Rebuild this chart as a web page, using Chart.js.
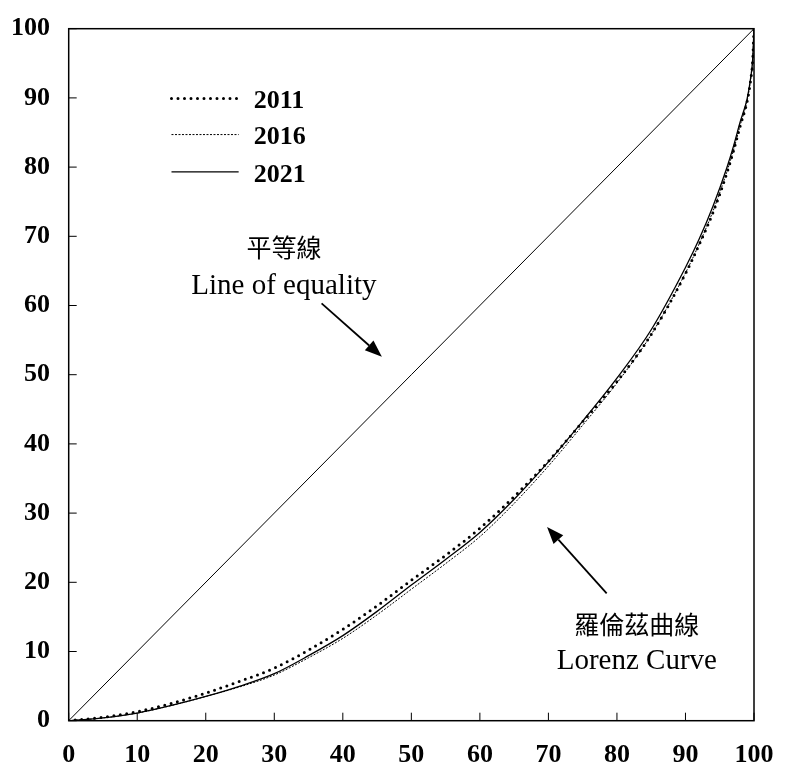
<!DOCTYPE html>
<html>
<head>
<meta charset="utf-8">
<title>Lorenz Curve</title>
<script src="https://cdn.jsdelivr.net/npm/chart.js@4/dist/chart.umd.min.js"></script>
<style>
  html, body { margin: 0; padding: 0; background: #fff; }
  #wrap { width: 785px; height: 765px; }
</style>
</head>
<body>
<div id="wrap"><canvas id="c" width="785" height="765"></canvas></div>
<script>
// Cumulative share of population (%), x axis
const popShare = [0, 5, 10, 15, 20, 25, 30, 35, 40, 45, 50, 55, 60, 65, 70, 75, 80, 85, 90, 92, 94, 96, 97, 98, 99, 99.5, 99.8, 100];
// Cumulative share of income (%) per survey year
const share2011 = [0, 0.5, 1.3, 2.5, 4.0, 5.7, 7.6, 10.2, 13.2, 16.6, 20.3, 23.9, 27.8, 32.4, 37.5, 43.2, 49.0, 55.8, 64.6, 68.8, 73.4, 79.0, 82.3, 86.0, 89.5, 92.5, 95.3, 100];
const share2016 = [0, 0.4, 1.1, 2.2, 3.5, 4.9, 6.6, 9.1, 11.9, 15.3, 19.0, 22.7, 26.6, 31.4, 36.8, 42.7, 48.8, 55.8, 64.7, 68.9, 73.6, 79.2, 82.4, 86.1, 89.6, 92.6, 95.3, 100];
const share2021 = [0, 0.4, 1.1, 2.2, 3.5, 5.0, 6.8, 9.4, 12.3, 15.8, 19.6, 23.3, 27.2, 32.0, 37.4, 43.3, 49.5, 56.5, 65.5, 69.6, 74.3, 79.8, 83.0, 86.6, 89.9, 92.8, 95.5, 100];
const equalityX = [0, 100];
const equalityY = [0, 100];
const seriesLabels = ['2011', '2016', '2021'];
const axisTicks = [0, 10, 20, 30, 40, 50, 60, 70, 80, 90, 100];

const SERIF = "'Liberation Serif', 'Times New Roman', serif";
const CJK = "'Liberation Serif', 'Noto Sans CJK TC', serif";

const toPoints = (xs, ys) => xs.map((x, i) => ({ x: x, y: ys[i] }));

const seriesStyles = [
  { borderWidth: 3, borderDash: [0, 6.5], borderCapStyle: 'round' },
  { borderWidth: 1, borderDash: [2, 1.5], borderCapStyle: 'butt' },
  { borderWidth: 1.3, borderDash: [], borderCapStyle: 'butt' }
];
const seriesData = [share2011, share2016, share2021];

const datasets = seriesLabels.map((lab, i) => Object.assign({
  label: lab,
  data: toPoints(popShare, seriesData[i]),
  borderColor: '#000',
  backgroundColor: '#000',
  fill: false,
  pointRadius: 0,
  cubicInterpolationMode: 'monotone'
}, seriesStyles[i]));

datasets.push({
  label: 'equality',
  data: toPoints(equalityX, equalityY),
  borderColor: '#000',
  borderWidth: 1,
  pointRadius: 0,
  fill: false
});

// Frame, inward tick marks, legend, notes and arrows
const decorations = {
  id: 'decorations',
  afterDraw(chart) {
    const ctx = chart.ctx;
    const a = chart.chartArea;
    const xs = chart.scales.x, ys = chart.scales.y;
    const px = v => xs.getPixelForValue(v);
    const py = v => ys.getPixelForValue(v);
    ctx.save();
    // frame
    ctx.strokeStyle = '#000';
    ctx.lineWidth = 1.5;
    ctx.setLineDash([]);
    ctx.strokeRect(a.left, a.top, a.right - a.left, a.bottom - a.top);
    // inward ticks
    ctx.lineWidth = 1;
    ctx.beginPath();
    axisTicks.forEach(t => {
      const x = px(t);
      ctx.moveTo(x, a.bottom);
      ctx.lineTo(x, a.bottom - 8);
      const y = py(t);
      ctx.moveTo(a.left, y);
      ctx.lineTo(a.left + 8, y);
    });
    ctx.stroke();

    // legend
    const legendY = [89.9, 84.7, 79.3];
    seriesLabels.forEach((lab, i) => {
      const st = seriesStyles[i];
      const y = py(legendY[i]);
      ctx.lineWidth = st.borderWidth;
      ctx.setLineDash(st.borderDash);
      ctx.lineCap = st.borderCapStyle;
      ctx.beginPath();
      ctx.moveTo(px(15.0), y);
      ctx.lineTo(px(24.8), y);
      ctx.stroke();
      ctx.setLineDash([]);
      ctx.lineCap = 'butt';
      ctx.fillStyle = '#000';
      ctx.font = 'bold 26px ' + SERIF;
      ctx.textAlign = 'left';
      ctx.textBaseline = 'middle';
      ctx.fillText(lab, px(27.0), y + 3);
    });

    // notes
    ctx.fillStyle = '#000';
    ctx.textAlign = 'center';
    ctx.textBaseline = 'middle';
    ctx.font = '25px ' + CJK;
    ctx.fillText('平等線', px(31.4), py(68.0));
    ctx.fillText('羅倫茲曲線', px(82.9), py(13.5));
    ctx.textBaseline = 'alphabetic';
    ctx.font = '29px ' + SERIF;
    ctx.fillText('Line of equality', px(31.4), py(61.7));
    ctx.fillText('Lorenz Curve', px(82.9), py(7.5));

    // arrows
    const arrow = (x0, y0, x1, y1) => {
      const ax = px(x0), ay = py(y0), bx = px(x1), by = py(y1);
      const ang = Math.atan2(by - ay, bx - ax);
      const hl = 17, hw = 6.5;
      const cx = bx - hl * Math.cos(ang), cy = by - hl * Math.sin(ang);
      ctx.lineWidth = 1.8;
      ctx.beginPath();
      ctx.moveTo(ax, ay);
      ctx.lineTo(cx, cy);
      ctx.stroke();
      ctx.beginPath();
      ctx.moveTo(bx, by);
      ctx.lineTo(cx + hw * Math.sin(ang), cy - hw * Math.cos(ang));
      ctx.lineTo(cx - hw * Math.sin(ang), cy + hw * Math.cos(ang));
      ctx.closePath();
      ctx.fill();
    };
    arrow(36.9, 60.3, 45.7, 52.6);
    arrow(78.5, 18.4, 69.8, 28.0);
    ctx.restore();
  }
};

// Let the layout padding alone decide where the plot area sits
const noLabelPadding = s => {
  s.paddingLeft = 0; s.paddingRight = 0; s.paddingTop = 0; s.paddingBottom = 0;
};

new Chart(document.getElementById('c'), {
  type: 'line',
  data: { datasets: datasets },
  options: {
    responsive: false,
    animation: false,
    events: [],
    layout: { padding: { left: 0, right: 31, top: 28.7, bottom: 0 } },
    plugins: { legend: { display: false }, tooltip: { enabled: false } },
    scales: {
      x: {
        type: 'linear',
        min: 0, max: 100,
        afterFit(s) { s.height = 44.3; noLabelPadding(s); },
        afterBuildTicks(s) { s.ticks = axisTicks.map(v => ({ value: v })); },
        grid: { display: false, drawTicks: false },
        border: { display: false },
        ticks: {
          padding: 19,
          maxRotation: 0,
          autoSkip: false,
          color: '#000',
          font: { family: SERIF, size: 26, weight: 'bold' }
        }
      },
      y: {
        type: 'linear',
        min: 0, max: 100,
        afterFit(s) { s.width = 68.7; noLabelPadding(s); },
        afterBuildTicks(s) { s.ticks = axisTicks.map(v => ({ value: v })); },
        grid: { display: false, drawTicks: false },
        border: { display: false },
        ticks: {
          padding: 18.7,
          autoSkip: false,
          color: '#000',
          font: { family: SERIF, size: 26, weight: 'bold' }
        }
      }
    }
  },
  plugins: [decorations]
});
</script>
</body>
</html>
